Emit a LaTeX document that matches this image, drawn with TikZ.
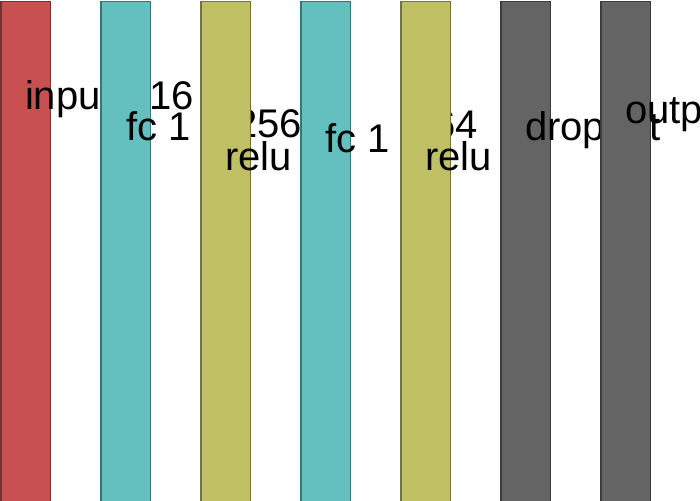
\documentclass[tikz,border=0pt]{standalone}
\usepackage{fontspec}
\setmainfont{Liberation Sans}
\definecolor{cred}{HTML}{C85050}
\definecolor{cteal}{HTML}{64BFBF}
\definecolor{colive}{HTML}{BFBF64}
\definecolor{cgray}{HTML}{646464}
\tikzset{
  bar/.style={line width=1.6pt, draw=#1!60!black, fill=#1},
  lbl/.style={anchor=base west, inner sep=0pt, outer sep=0pt, font=\fontsize{40}{48}\selectfont, text=black}
}
\begin{document}
\begin{tikzpicture}[x=1pt,y=-1pt]
\useasboundingbox (0,0) rectangle (700,500);
\clip (0,0) rectangle (700,500);
% layer 0
\draw[bar=cred] (1,1.5) rectangle (50.5,520);
\node[lbl] (tinput) at (25,110) {input};
% layer 1
\draw[bar=cteal] (101,1.5) rectangle (150.5,520);
\node[lbl] (tfca) at (126,140) {fc 1};
\node[lbl] (tsixteen) at (149.5,110) {16};
\node[lbl] (ttwofivesix) at (235,137) {256};
% layer 2
\draw[bar=colive] (201,1.5) rectangle (250.5,520);
\node[lbl] (trelua) at (225,170) {relu};
% layer 3
\draw[bar=cteal] (301,1.5) rectangle (350.5,520);
\node[lbl] (tfcb) at (325,152) {fc 1};
\node[lbl] (tsixtyfour) at (433.5,138) {64};
% layer 4
\draw[bar=colive] (401,1.5) rectangle (450.5,520);
\node[lbl] (tselub) at (425,170) {relu};
% layer 5
\draw[bar=cgray] (501,1.5) rectangle (550.5,520);
\node[lbl] (tdrop) at (525,140) {dropout};
% layer 6
\draw[bar=cgray] (601,1.5) rectangle (650.5,520);
\node[lbl] (toutput) at (625,123) {output};
\end{tikzpicture}
\end{document}
